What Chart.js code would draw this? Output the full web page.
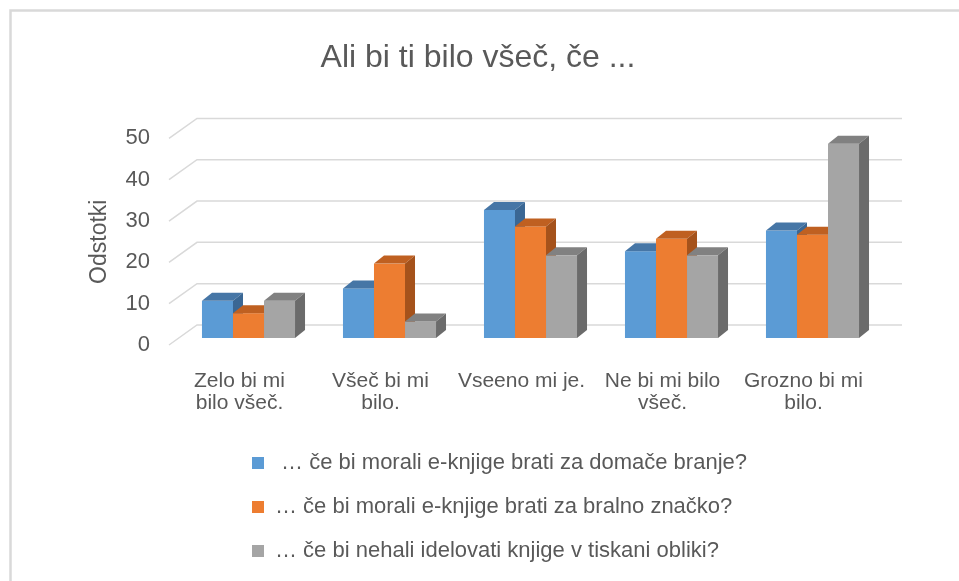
<!DOCTYPE html>
<html>
<head>
<meta charset="utf-8">
<title>Ali bi ti bilo všeč, če ...</title>
<script src="https://cdn.jsdelivr.net/npm/chart.js@4.4.1/dist/chart.umd.min.js"></script>
<style>
  html, body { margin: 0; padding: 0; background: #fff; }
  canvas { display: block; }
</style>
</head>
<body>
<canvas id="myChart" width="959" height="581"></canvas>
<script>
const categories = [
    ['Zelo bi mi', 'bilo všeč.'],
    ['Všeč bi mi', 'bilo.'],
    'Vseeno mi je.',
    ['Ne bi mi bilo', 'všeč.'],
    ['Grozno bi mi', 'bilo.']
];
const seriesNames = [
    ' … če bi morali e-knjige brati za domače branje?',
    '… če bi morali e-knjige brati za bralno značko?',
    '… če bi nehali idelovati knjige v tiskani obliki?'
];
const homeReading = [9, 12, 31, 21, 26];
const readingBadge = [6, 18, 27, 24, 25];
const stopPrinting = [9, 4, 20, 20, 47];
const yTicks = [0, 10, 20, 30, 40, 50];

const colorVar = {
    blue: '#5B9BD5',
    orange: '#ED7D31',
    gray: '#A5A5A5',
    text: '#595959',
    grid: '#D9D9D9',
}
// darker faces for the fake 3d look
const shade = {
    '#5B9BD5': { top: '#4676A6', side: '#3A6794' },
    '#ED7D31': { top: '#BF6021', side: '#A5521B' },
    '#A5A5A5': { top: '#818181', side: '#6B6B6B' },
}

// offsets of the depth planes from the front edge of the floor
const barFront = [9, -7];
const barDepth = [10, -8];
const wall = [28, -20];

const threeD = {
    id: 'threeD',
    beforeDraw(chart) {
        const ctx = chart.ctx;
        ctx.save();
        ctx.strokeStyle = colorVar.grid;
        ctx.lineWidth = 2.5;
        ctx.beginPath();
        ctx.moveTo(10.5, chart.height);
        ctx.lineTo(10.5, 10.5);
        ctx.lineTo(chart.width, 10.5);
        ctx.stroke();
        ctx.restore();
    },
    afterLayout(chart) {
        // left edge of the stacked legend rows
        chart.legend.left = 230;
    },
    beforeDatasetsDraw(chart) {
        const ctx = chart.ctx;
        const { left, right } = chart.chartArea;
        const yScale = chart.scales.y;
        ctx.save();

        ctx.strokeStyle = colorVar.grid;
        ctx.lineWidth = 1.5;
        yScale.ticks.forEach(t => {
            const py = yScale.getPixelForValue(t.value);
            ctx.beginPath();
            ctx.moveTo(left, py);
            ctx.lineTo(left + wall[0], py + wall[1]);
            ctx.lineTo(right + wall[0], py + wall[1]);
            ctx.stroke();
        });

        chart.data.datasets.forEach((ds, i) => {
            const meta = chart.getDatasetMeta(i);
            const c = ds.backgroundColor;
            meta.data.forEach(bar => {
                const p = bar.getProps(['x', 'y', 'base', 'width'], true);
                const l = p.x - p.width / 2 + barFront[0];
                const r = p.x + p.width / 2 + barFront[0];
                const t = p.y + barFront[1];
                const b = p.base + barFront[1];
                const [dx, dy] = barDepth;

                ctx.fillStyle = c;
                ctx.fillRect(l, t, r - l, b - t);

                ctx.fillStyle = shade[c].top;
                ctx.beginPath();
                ctx.moveTo(l, t);
                ctx.lineTo(l + dx, t + dy);
                ctx.lineTo(r + dx, t + dy);
                ctx.lineTo(r, t);
                ctx.closePath();
                ctx.fill();

                ctx.fillStyle = shade[c].side;
                ctx.beginPath();
                ctx.moveTo(r, t);
                ctx.lineTo(r + dx, t + dy);
                ctx.lineTo(r + dx, b + dy);
                ctx.lineTo(r, b);
                ctx.closePath();
                ctx.fill();
            });
        });
        ctx.restore();
        return false;
    }
};

const ctx = document.getElementById('myChart');

new Chart(ctx, {
    type: 'bar',
    data: {
        labels: categories,
        datasets: [
            { label: seriesNames[0], data: homeReading, backgroundColor: colorVar.blue, borderWidth: 0 },
            { label: seriesNames[1], data: readingBadge, backgroundColor: colorVar.orange, borderWidth: 0 },
            { label: seriesNames[2], data: stopPrinting, backgroundColor: colorVar.gray, borderWidth: 0 },
        ]
    },
    plugins: [threeD],
    options: {
        responsive: false,
        animation: false,
        devicePixelRatio: 1,
        layout: { padding: { left: 82, right: 85, top: 0, bottom: 9 } },
        datasets: {
            bar: { categoryPercentage: 0.66, barPercentage: 1.0 }
        },
        scales: {
            x: {
                grid: { display: false, drawTicks: false },
                border: { display: false },
                ticks: {
                    color: colorVar.text,
                    font: { family: 'Liberation Sans', size: 21, lineHeight: '22px' },
                    padding: 25,
                    maxRotation: 0,
                    autoSkip: false
                },
                afterFit: (scale) => { scale.height = 85; }
            },
            y: {
                min: yTicks[0],
                max: yTicks[yTicks.length - 1],
                grid: { display: false, drawTicks: false },
                border: { display: false },
                ticks: {
                    stepSize: yTicks[1] - yTicks[0],
                    color: colorVar.text,
                    font: { family: 'Liberation Sans', size: 22 },
                    padding: 19
                },
                title: {
                    display: true,
                    text: 'Odstotki',
                    color: colorVar.text,
                    font: { family: 'Liberation Sans', size: 23 },
                    padding: { top: 4, bottom: 4 }
                },
                afterFit: (scale) => { scale.width = 87; }
            }
        },
        plugins: {
            title: {
                display: true,
                text: 'Ali bi ti bilo všeč, če ...',
                color: colorVar.text,
                font: { family: 'Liberation Sans', size: 32, weight: 'normal' },
                padding: { top: 39, bottom: 61 }
            },
            legend: {
                position: 'bottom',
                align: 'start',
                labels: {
                    color: colorVar.text,
                    font: { family: 'Liberation Sans', size: 22 },
                    boxWidth: 12,
                    boxHeight: 12,
                    padding: 22
                }
            },
            tooltip: { enabled: false }
        }
    }
});
</script>
</body>
</html>
